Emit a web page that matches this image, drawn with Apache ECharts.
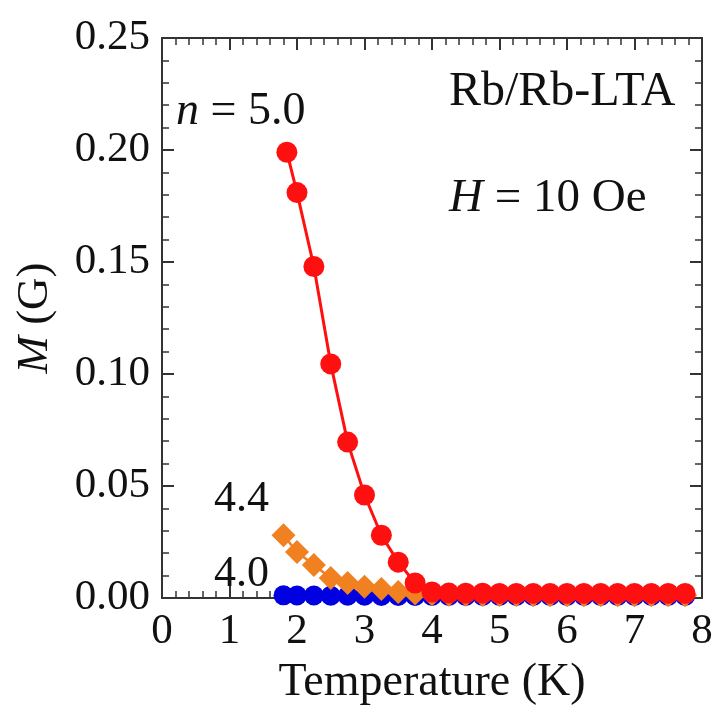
<!DOCTYPE html>
<html><head><meta charset="utf-8">
<script src="https://cdn.jsdelivr.net/npm/echarts@6/dist/echarts.min.js"></script>
<style>html,body{margin:0;padding:0;background:#fff}#c{width:717px;height:713px}</style>
</head><body><div id="c"></div>
<script>
// Temperatures (K)
const tempsRed = [1.85, 2.0, 2.25, 2.5, 2.75, 3.0, 3.25, 3.5, 3.75, 4.0, 4.25, 4.5, 4.75, 5.0, 5.25, 5.5, 5.75, 6.0, 6.25, 6.5, 6.75, 7.0, 7.25, 7.5, 7.75];
const temps = [1.8, 2.0, 2.25, 2.5, 2.75, 3.0, 3.25, 3.5, 3.75, 4.0, 4.25, 4.5, 4.75, 5.0, 5.25, 5.5, 5.75, 6.0, 6.25, 6.5, 6.75, 7.0, 7.25, 7.5, 7.75];
// M (G) for n = 5.0
const mN50 = [0.199, 0.181, 0.148, 0.1045, 0.0696, 0.046, 0.028, 0.016, 0.0067, 0.0027, 0.0022, 0.0021, 0.0021, 0.002, 0.002, 0.002, 0.002, 0.002, 0.002, 0.002, 0.002, 0.002, 0.002, 0.002, 0.002];
// M (G) for n = 4.4
const mN44 = [0.028, 0.0205, 0.0147, 0.0089, 0.0067, 0.005, 0.004, 0.0027, 0.002, 0.0017, 0.0015, 0.0014, 0.0013, 0.0013, 0.0013, 0.0012, 0.0012, 0.0012, 0.0012, 0.0012, 0.0012, 0.0012, 0.0012, 0.0012, 0.0012];
// M (G) for n = 4.0
const mN40 = [0.0012, 0.0011, 0.0011, 0.0010, 0.0010, 0.0010, 0.0009, 0.0009, 0.0009, 0.0009, 0.0009, 0.0009, 0.0009, 0.0009, 0.0009, 0.0009, 0.0009, 0.0009, 0.0009, 0.0009, 0.0009, 0.0009, 0.0009, 0.0009, 0.0009];
const xTicks = ['0','1','2','3','4','5','6','7','8'];
const yTicks = ['0.00','0.05','0.10','0.15','0.20','0.25'];

const FF = '"Liberation Serif", "Times New Roman", serif';
const INK = '#111';
const zip = (xs, ys) => xs.map((x, i) => [x, ys[i]]);

const chart = echarts.init(document.getElementById('c'), null, {renderer: 'canvas'});
const mkLine = () => ({show: true, onZero: false, lineStyle: {color: '#333', width: 2}});
const mkMinor = () => ({show: true, splitNumber: 5, length: 7, lineStyle: {color: '#333', width: 1.5}});
const mkTick = () => ({show: true, inside: true, length: 12, lineStyle: {color: '#333', width: 2}});

chart.setOption({
  animation: false,
  backgroundColor: '#fff',
  grid: {left: 162, right: 15, top: 38, bottom: 115, containLabel: false},
  xAxis: [{
    type: 'value', min: 0, max: 8, interval: 1, position: 'bottom',
    axisLine: mkLine(), axisTick: mkTick(), minorTick: mkMinor(), splitLine: {show: false}, minorSplitLine: {show: false},
    axisLabel: {fontFamily: FF, fontSize: 43, color: INK, margin: 12,
      formatter: v => xTicks[Math.round(v)]},
    name: 'Temperature (K)', nameLocation: 'middle', nameGap: 62,
    nameTextStyle: {fontFamily: FF, fontSize: 46, color: INK}
  }, {
    type: 'value', min: 0, max: 8, interval: 1, position: 'top',
    axisLine: mkLine(), axisTick: mkTick(), minorTick: mkMinor(), splitLine: {show: false}, minorSplitLine: {show: false},
    axisLabel: {show: false}
  }],
  yAxis: [{
    type: 'value', min: 0, max: 0.25, interval: 0.05, position: 'left',
    axisLine: mkLine(), axisTick: mkTick(), minorTick: mkMinor(), splitLine: {show: false}, minorSplitLine: {show: false},
    axisLabel: {fontFamily: FF, fontSize: 43, color: INK, margin: 12,
      formatter: v => yTicks[Math.round(v / 0.05)]},
    name: '{i|M} (G)', nameLocation: 'middle', nameGap: 104, nameRotate: 90,
    nameTextStyle: {fontFamily: FF, fontSize: 45, color: INK,
      rich: {i: {fontFamily: FF, fontSize: 45, fontStyle: 'italic', color: INK}}}
  }, {
    type: 'value', min: 0, max: 0.25, interval: 0.05, position: 'right',
    axisLine: mkLine(), axisTick: mkTick(), minorTick: mkMinor(), splitLine: {show: false}, minorSplitLine: {show: false},
    axisLabel: {show: false}
  }],
  series: [{
    name: '4.0', type: 'line', data: zip(temps, mN40), z: 2,
    symbol: 'circle', symbolSize: 20, clip: false,
    itemStyle: {color: '#0000e0'}, lineStyle: {color: '#0000e0', width: 2}
  }, {
    name: '4.4', type: 'line', data: zip(temps, mN44), z: 3,
    symbol: 'diamond', symbolSize: 24, clip: false,
    itemStyle: {color: '#f08020'}, lineStyle: {color: '#f08020', width: 2.5}
  }, {
    name: '5.0', type: 'line', data: zip(tempsRed, mN50), z: 4,
    symbol: 'circle', symbolSize: 21, clip: false,
    itemStyle: {color: '#ff1010'}, lineStyle: {color: '#ff1010', width: 3}
  }],
  graphic: [
    {type: 'text', x: 176, y: 112, z: 10, style: {text: '{i|n} = 5.0', fontFamily: FF, fontSize: 46, fill: INK,
      textVerticalAlign: 'middle', verticalAlign: 'middle',
      rich: {i: {fontFamily: FF, fontSize: 46, fontStyle: 'italic', color: INK}}}},
    {type: 'text', x: 449, y: 92, z: 10, style: {text: 'Rb/Rb-LTA', fontFamily: FF, fontSize: 48, fill: INK,
      textVerticalAlign: 'middle', verticalAlign: 'middle'}},
    {type: 'text', x: 449, y: 199, z: 10, style: {text: '{i|H} = 10 Oe', fontFamily: FF, fontSize: 47, fill: INK,
      textVerticalAlign: 'middle', verticalAlign: 'middle',
      rich: {i: {fontFamily: FF, fontSize: 47, fontStyle: 'italic', color: INK}}}},
    {type: 'text', x: 214, y: 499, z: 10, style: {text: '4.4', fontFamily: FF, fontSize: 44, fill: INK,
      textVerticalAlign: 'middle', verticalAlign: 'middle'}},
    {type: 'text', x: 214, y: 574, z: 1, style: {text: '4.0', fontFamily: FF, fontSize: 44, fill: INK,
      textVerticalAlign: 'middle', verticalAlign: 'middle'}}
  ]
});
</script></body></html>
